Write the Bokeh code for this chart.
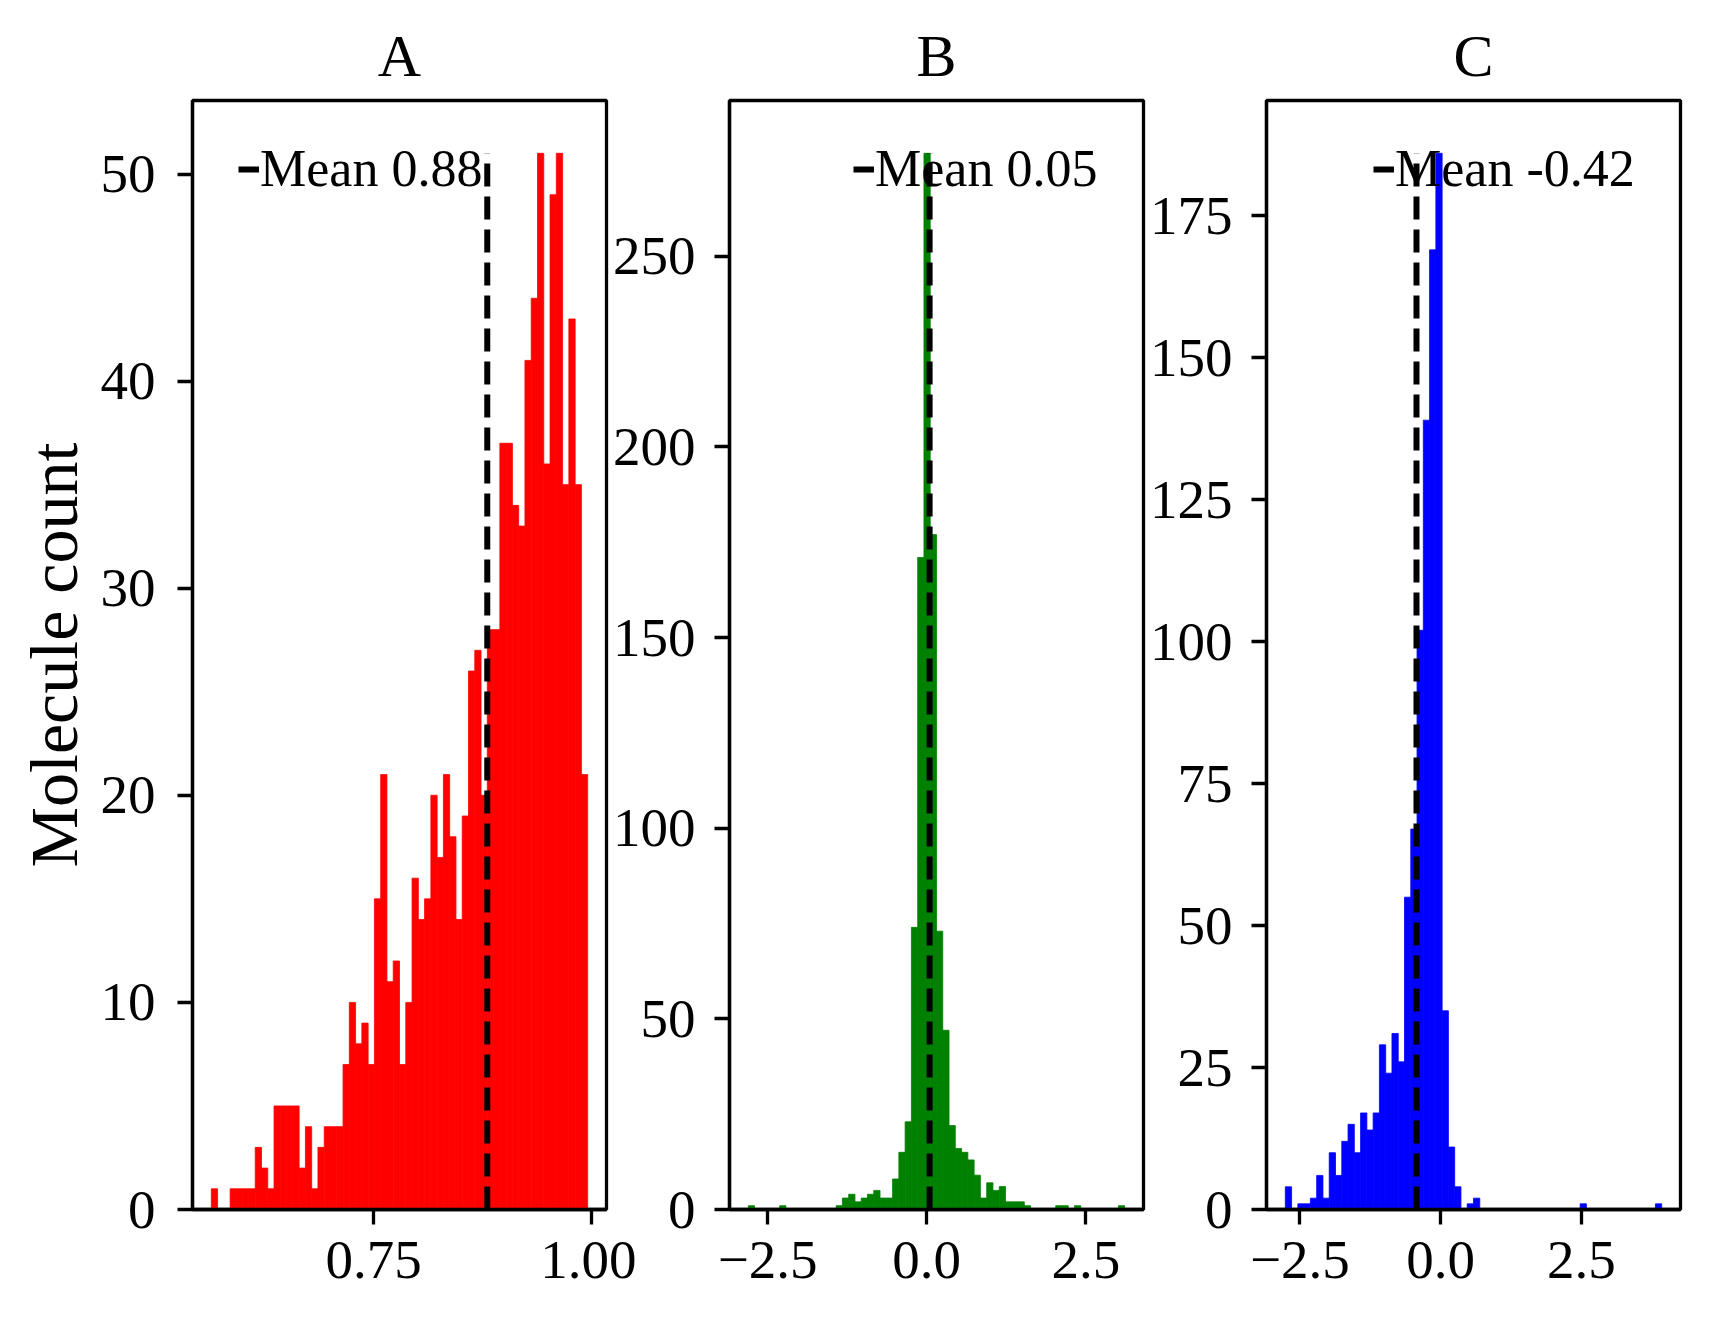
import numpy as np
from bokeh.plotting import figure
from bokeh.models import Range1d, FixedTicker
from bokeh.layouts import row
from bokeh.embed import file_html
from bokeh.resources import INLINE

# ---------------- data ----------------
panel_titles = ["A", "B", "C"]
bar_colors = ["#ff0000", "#008000", "#0000ff"]

counts_a = [1, 0, 0, 1, 1, 1, 1, 3, 2, 1,
            5, 5, 5, 5, 2, 4, 1, 3, 4, 4,
            4, 7, 10, 8, 9, 7, 15, 21, 11, 12,
            7, 10, 16, 14, 15, 20, 17, 21, 18, 14,
            19, 26, 27, 20, 28, 28, 37, 37, 34, 33,
            41, 44, 51, 36, 49, 51, 35, 43, 35, 21]
counts_b = [1, 0, 0, 0, 0, 1, 0, 0, 0, 0,
            0, 0, 0, 0, 1, 3, 4, 2, 3, 4,
            5, 3, 3, 8, 15, 23, 74, 171, 277, 177,
            73, 47, 22, 16, 15, 13, 9, 3, 7, 5,
            6, 2, 2, 2, 1, 0, 0, 0, 0, 1,
            1, 0, 1, 0, 0, 0, 0, 0, 0, 1]
counts_c = [4, 0, 1, 1, 2, 6, 2, 10, 6, 12,
            15, 10, 17, 14, 17, 29, 24, 31, 26, 55,
            67, 102, 139, 169, 186, 35, 11, 4, 0, 1,
            2, 0, 0, 0, 0, 0, 0, 0, 0, 0,
            0, 0, 0, 0, 0, 0, 0, 1, 0, 0,
            0, 0, 0, 0, 0, 0, 0, 0, 0, 1]

# histogram value ranges (min, max of the data)
range_a = (0.5640, 0.9954)
range_b = (-2.804, 3.111)
range_c = (-2.758, 3.927)

means = [0.8803, 0.045, -0.428]
mean_labels = ["Mean 0.88", "Mean 0.05", "Mean -0.42"]

xticks_a = [0.75, 1.0]
xtick_labels_a = ["0.75", "1.00"]
xticks_bc = [-2.5, 0.0, 2.5]
xtick_labels_bc = ["\u22122.5", "0.0", "2.5"]
yticks_a = [0, 10, 20, 30, 40, 50]
yticks_b = [0, 50, 100, 150, 200, 250]
yticks_c = [0, 25, 50, 75, 100, 125, 150, 175]

y_label = "Molecule count"

# ---------------- style / layout ----------------
FONT = "Liberation Serif"
FRAME_W, FRAME_H = 414, 1109
border_lefts = [192, 135, 135]
border_rights = [30, 5, 10]
left_margins = [0, -42, -17]
ytick_standoffs = [22, 19, 19]
# legend box bottom-left corner, in px from the frame's bottom-left
legend_locs = [(40, 1005), (118, 1005), (101, 1005)]


def panel(i, counts, rng, xticks, xlabels, yticks):
    n = len(counts)
    edges = np.linspace(rng[0], rng[1], n + 1)
    span = rng[1] - rng[0]
    cmax = max(counts)
    p = figure(frame_width=FRAME_W, frame_height=FRAME_H,
               min_border_left=border_lefts[i],
               min_border_right=border_rights[i],
               min_border_top=100, min_border_bottom=92,
               x_range=Range1d(rng[0] - 0.05 * span, rng[1] + 0.05 * span),
               y_range=Range1d(0, 1.05 * cmax),
               output_backend="svg", toolbar_location=None,
               title=panel_titles[i],
               margin=(0, 0, 0, left_margins[i]))
    p.border_fill_color = None
    p.background_fill_color = "white"
    p.outline_line_color = "black"
    p.outline_line_width = 3.3
    p.grid.visible = False

    p.quad(left=edges[:-1], right=edges[1:], top=counts, bottom=0,
           fill_color=bar_colors[i], line_color=bar_colors[i], line_width=0.8)
    p.line(x=[means[i], means[i]], y=[0, cmax], line_color="black",
           line_width=6, line_dash="23 10", legend_label=mean_labels[i])

    p.title.align = "center"
    p.title.text_font = FONT
    p.title.text_font_size = "60px"
    p.title.text_font_style = "normal"
    p.title.text_color = "black"
    p.title.standoff = 24

    for ax in (p.xaxis[0], p.yaxis[0]):
        ax.axis_line_color = "black"
        ax.axis_line_width = 3.3
        ax.major_tick_line_color = "black"
        ax.major_tick_line_width = 3.3
        ax.major_tick_out = 15
        ax.major_tick_in = 0
        ax.minor_tick_line_color = None
        ax.major_label_text_font = FONT
        ax.major_label_text_font_size = "55px"
        ax.major_label_text_color = "black"
    p.xaxis.ticker = FixedTicker(ticks=xticks)
    p.xaxis.major_label_overrides = {t: l for t, l in zip(xticks, xlabels)}
    p.xaxis.major_label_standoff = 17
    p.yaxis.ticker = FixedTicker(ticks=yticks)
    p.yaxis.major_label_standoff = ytick_standoffs[i]

    lg = p.legend[0]
    lg.location = legend_locs[i]
    lg.padding = 6
    lg.background_fill_alpha = 0
    lg.border_line_alpha = 0
    lg.glyph_width = 21
    lg.glyph_height = 20
    lg.label_standoff = 1
    lg.label_text_font = FONT
    lg.label_text_font_size = "52px"
    lg.label_text_color = "black"
    return p


pa = panel(0, counts_a, range_a, xticks_a, xtick_labels_a, yticks_a)
pb = panel(1, counts_b, range_b, xticks_bc, xtick_labels_bc, yticks_b)
pc = panel(2, counts_c, range_c, xticks_bc, xtick_labels_bc, yticks_c)

pa.yaxis.axis_label = y_label
pa.yaxis.axis_label_text_font = FONT
pa.yaxis.axis_label_text_font_size = "68px"
pa.yaxis.axis_label_text_font_style = "normal"
pa.yaxis.axis_label_text_color = "black"
pa.yaxis.axis_label_standoff = 6

layout = row(pa, pb, pc, spacing=0)

with open("out.html", "w") as f:
    f.write(file_html(layout, INLINE))
